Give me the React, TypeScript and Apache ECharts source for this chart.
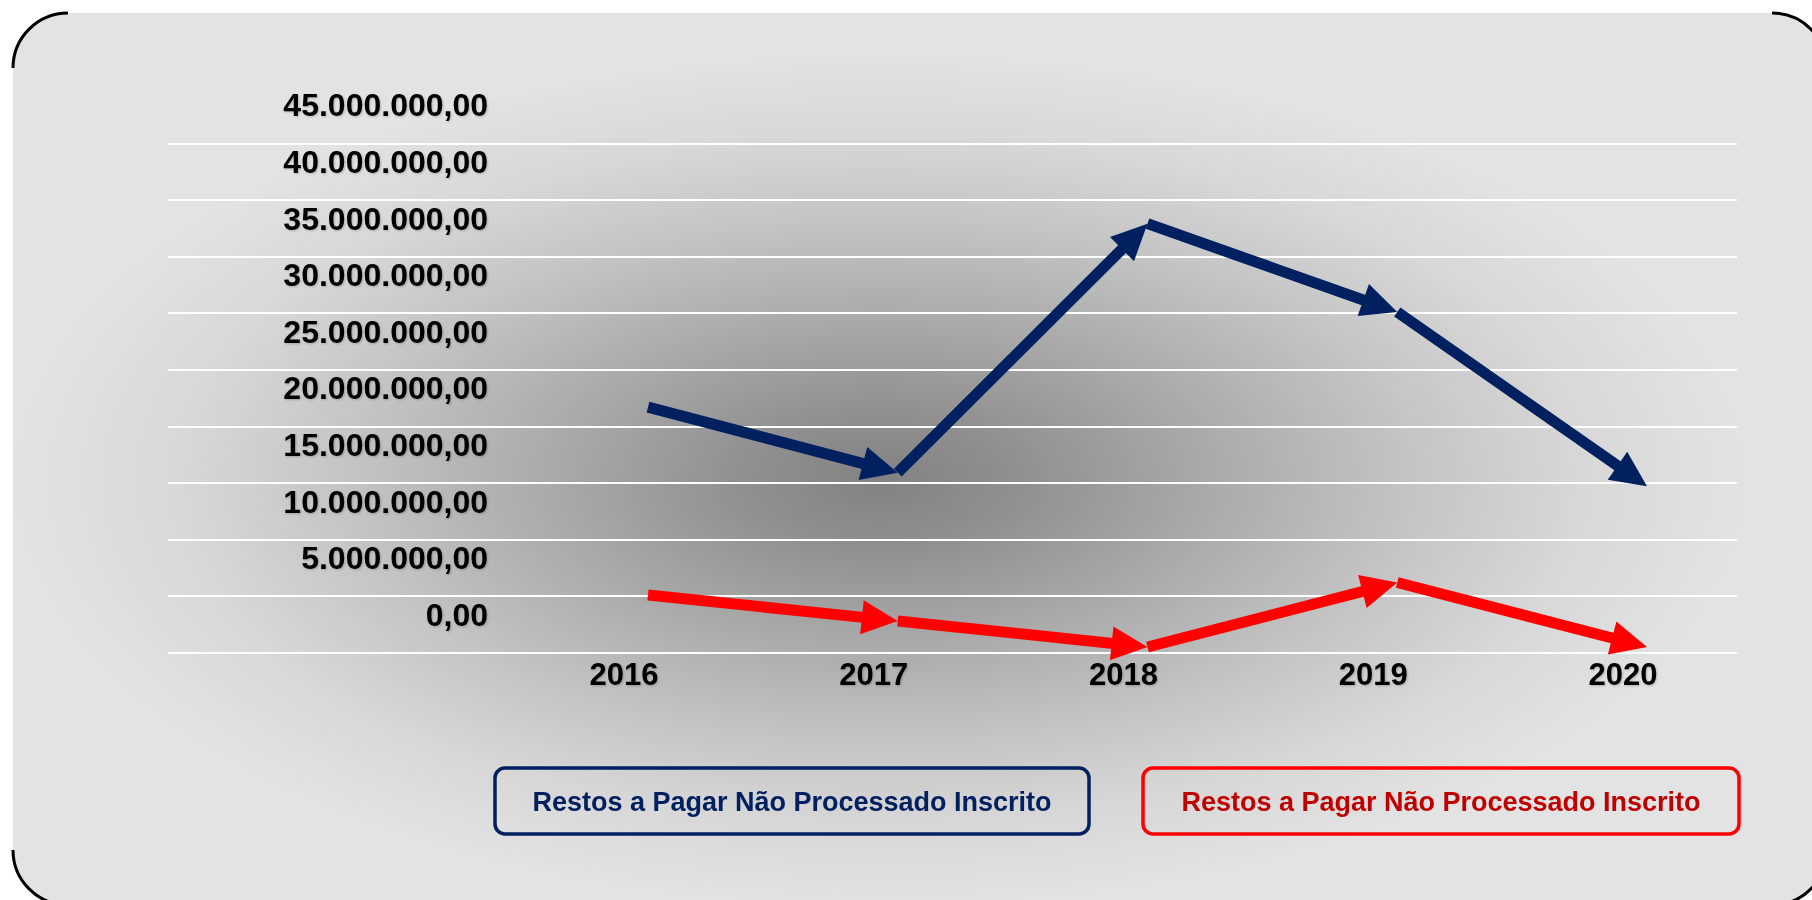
import React, { useEffect, useRef } from 'react';
import * as echarts from 'echarts';

// ---------- data ----------
const years = ['2016', '2017', '2018', '2019', '2020'];
const seriesNames = ['Restos a Pagar Não Processado Inscrito', 'Restos a Pagar Não Processado Inscrito'];
const blueValues = [21700000, 15900000, 37900000, 30100000, 14700000];
const redValues = [5100000, 2800000, 500000, 6200000, 500000];
const yMin = 0;
const yMax = 45000000;
const yStep = 5000000;

// ---------- style ----------
const BLUE = '#002060';
const RED = '#ff0000';
const RED_TEXT = '#c00000';
const FONT = "'Liberation Sans', Arial, sans-serif";

const fmt = (v: number) =>
  Math.round(v).toString().replace(/\B(?=(\d{3})+(?!\d))/g, '.') + ',00';

const segments = (vals: number[]) => vals.slice(0, -1).map((v, i) => [i, v, vals[i + 1]]);

const arrowRenderer = (color: string) => (params: any, api: any) => {
  const i = api.value(0);
  const p0 = api.coord([i, api.value(1)]);
  const p1 = api.coord([i + 1, api.value(2)]);
  const dx = p1[0] - p0[0];
  const dy = p1[1] - p0[1];
  const len = Math.sqrt(dx * dx + dy * dy) || 1;
  const ux = dx / len;
  const uy = dy / len;
  const nx = -uy;
  const ny = ux;
  const L = 36;
  const W = 17;
  const bx = p1[0] - ux * L;
  const by = p1[1] - uy * L;
  const sx = p1[0] - ux * L * 0.5;
  const sy = p1[1] - uy * L * 0.5;
  return {
    type: 'group',
    children: [
      {
        type: 'line',
        shape: { x1: p0[0], y1: p0[1], x2: sx, y2: sy },
        style: { stroke: color, lineWidth: 11, lineCap: 'butt' },
      },
      {
        type: 'polygon',
        shape: { points: [[p1[0], p1[1]], [bx + nx * W, by + ny * W], [bx - nx * W, by - ny * W]] },
        style: { fill: color },
      },
    ],
  };
};

const labelShadow = {
  textShadowColor: 'rgba(0,0,0,0.22)',
  textShadowBlur: 2,
  textShadowOffsetX: 1,
  textShadowOffsetY: 1,
};

export default function App() {
  const ref = useRef<HTMLDivElement>(null);

  useEffect(() => {
    if (!ref.current) return;
    const chart = echarts.init(ref.current, null, { renderer: 'svg' });

    const gridTop = 143.3;
    const gridBottom = 900 - 652.7;
    const labelShift = 38;

    const cornerR = 55;
    const pX = 13, pY = 13, pW = 1814, pH = 892;
    const arc = (cx: number, cy: number, s: number, e: number) => ({
      type: 'arc',
      z: 5,
      silent: true,
      shape: { cx, cy, r: cornerR, startAngle: s, endAngle: e, clockwise: true },
      style: { stroke: '#000', lineWidth: 3, fill: 'none' },
    });

    const legendBox = (x: number, w: number, stroke: string, textColor: string, label: string) => ({
      type: 'group',
      z: 50,
      children: [
        {
          type: 'rect',
          shape: { x, y: 768, width: w, height: 66, r: 10 },
          style: { fill: 'rgba(0,0,0,0)', stroke, lineWidth: 3.5 },
        },
        {
          type: 'text',
          x: x + w / 2,
          y: 802,
          style: {
            text: label,
            fill: textColor,
            font: `bold 27px ${FONT}`,
            align: 'center',
            verticalAlign: 'middle',
            textAlign: 'center',
            textVerticalAlign: 'middle',
          },
        },
      ],
    });

    const option: any = {
      animation: false,
      backgroundColor: 'transparent',
      graphic: [
        {
          type: 'rect',
          z: -100,
          silent: true,
          shape: { x: pX, y: pY, width: pW, height: pH, r: cornerR },
          style: {
            fill: new echarts.graphic.RadialGradient(0.478, 0.524, 0.48, [
              { offset: 0, color: '#828282' },
              { offset: 0.15, color: '#8f8f8f' },
              { offset: 0.38, color: '#aaaaaa' },
              { offset: 0.6, color: '#c3c3c3' },
              { offset: 0.8, color: '#d7d7d7' },
              { offset: 1, color: '#e3e3e3' },
            ]),
          },
        },
        arc(pX + cornerR, pY + cornerR, Math.PI, Math.PI * 1.5),
        arc(pX + pW - cornerR, pY + cornerR, Math.PI * 1.5, Math.PI * 2),
        arc(pX + cornerR, pY + pH - cornerR, Math.PI * 0.5, Math.PI),
        arc(pX + pW - cornerR, pY + pH - cornerR, 0, Math.PI * 0.5),
        legendBox(495, 594, BLUE, BLUE, seriesNames[0]),
        legendBox(1143, 596, RED, RED_TEXT, seriesNames[1]),
      ],
      grid: [
        // gridlines
        { left: 168, right: 1812 - 1737, top: gridTop, bottom: gridBottom },
        // data
        { left: 648, right: 1812 - 1647, top: gridTop, bottom: gridBottom },
        // value labels (drawn shifted upwards, as in the original)
        { left: 168, right: 1812 - 1737, top: gridTop - labelShift, bottom: gridBottom + labelShift },
      ],
      xAxis: [
        { gridIndex: 0, type: 'category', data: years, show: false },
        {
          gridIndex: 1,
          type: 'category',
          data: years,
          boundaryGap: false,
          axisLine: { show: false },
          axisTick: { show: false },
          splitLine: { show: false },
          axisLabel: {
            margin: 6,
            color: '#000',
            fontFamily: FONT,
            fontWeight: 'bold',
            fontSize: 31,
            padding: [0, 48, 0, 0],
            ...labelShadow,
          },
        },
        { gridIndex: 2, type: 'category', data: years, show: false },
      ],
      yAxis: [
        {
          gridIndex: 0,
          type: 'value',
          min: yMin,
          max: yMax,
          interval: yStep,
          axisLine: { show: false },
          axisTick: { show: false },
          axisLabel: { show: false },
          splitLine: { show: true, lineStyle: { color: '#ffffff', width: 2 } },
        },
        {
          gridIndex: 1,
          type: 'value',
          min: yMin,
          max: yMax,
          interval: yStep,
          show: false,
          splitLine: { show: false },
        },
        {
          gridIndex: 2,
          type: 'value',
          min: yMin,
          max: yMax,
          interval: yStep,
          axisLine: { show: false },
          axisTick: { show: false },
          splitLine: { show: false },
          axisLabel: {
            formatter: (v: number) => fmt(v),
            margin: -320,
            color: '#000',
            fontFamily: FONT,
            fontWeight: 'bold',
            fontSize: 32,
            ...labelShadow,
          },
        },
      ],
      series: [
        {
          name: seriesNames[0],
          type: 'custom',
          xAxisIndex: 1,
          yAxisIndex: 1,
          z: 10,
          renderItem: arrowRenderer(BLUE),
          encode: { x: 0, y: [1, 2] },
          data: segments(blueValues),
        },
        {
          name: seriesNames[1],
          type: 'custom',
          xAxisIndex: 1,
          yAxisIndex: 1,
          z: 10,
          renderItem: arrowRenderer(RED),
          encode: { x: 0, y: [1, 2] },
          data: segments(redValues),
        },
      ],
    };

    chart.setOption(option);
    return () => chart.dispose();
  }, []);

  return (
    <div
      ref={ref}
      style={{ position: 'fixed', left: 0, top: 0, width: 1812, height: 900 }}
    />
  );
}
